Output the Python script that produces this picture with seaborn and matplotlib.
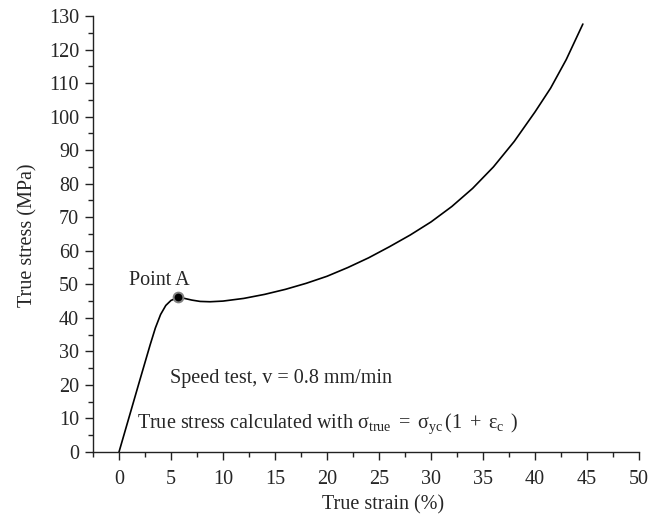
import numpy as np
import pandas as pd
import seaborn as sns
import matplotlib.pyplot as plt
from matplotlib.ticker import MultipleLocator

# values
strain = [0, 1.0, 2.0, 3.0, 3.5, 4.0, 4.5, 5.0, 5.7, 6.3, 7.0, 7.8, 8.75,
          10.0, 12.0, 14.0, 16.0, 18.0, 20.0, 22.0, 24.0, 26.0, 28.0, 30.0,
          32.0, 34.0, 36.0, 38.0, 40.0, 41.5, 43.0, 44.6]
stress = [0, 10.7, 21.4, 32.0, 37.0, 41.0, 43.7, 45.2, 46.1, 45.8, 45.3, 44.9,
          44.8, 45.0, 45.8, 47.0, 48.5, 50.3, 52.4, 55.0, 57.9, 61.2, 64.7,
          68.6, 73.2, 78.6, 85.0, 92.6, 101.4, 108.5, 117.0, 127.6]
point_a = (5.7, 46.1)

df = pd.DataFrame({'strain': strain, 'stress': stress})

sns.set_style('ticks')
plt.rcParams['font.family'] = ['Liberation Serif', 'DejaVu Serif']
plt.rcParams['mathtext.fontset'] = 'custom'
plt.rcParams['mathtext.rm'] = 'Liberation Serif'
plt.rcParams['mathtext.it'] = 'Liberation Serif:italic'
plt.rcParams['mathtext.default'] = 'rm'

fs = 14.5
fig = plt.figure(figsize=(6.59, 5.16), dpi=100)
ax = fig.add_axes([0.1411, 0.124, 0.8286, 0.845])

sns.lineplot(data=df, x='strain', y='stress', sort=False, color='black',
             linewidth=1.2, ax=ax)
ax.plot(point_a[0], point_a[1], 'o', color='black', markersize=7,
        markeredgecolor='#808080', markeredgewidth=1.4, zorder=5)

ax.text(3.9, 51.0, 'Point A', fontsize=fs, ha='center', va='center')
ax.text(4.9, 22.0, 'Speed test, v = 0.8 mm/min', fontsize=fs, ha='left',
        va='center')
ax.text(1.7, 8.3,
        r'True stress calculated with $\sigma_{true}\ =\ \sigma_{yc}\,(1\ +\ \varepsilon_{c}\ \,)$',
        fontsize=fs, ha='left', va='center')

ax.set_xlim(-2.5, 50)
ax.set_ylim(0, 130)
ax.xaxis.set_major_locator(MultipleLocator(5))
ax.xaxis.set_minor_locator(MultipleLocator(2.5))
ax.yaxis.set_major_locator(MultipleLocator(10))
ax.yaxis.set_minor_locator(MultipleLocator(5))
ax.tick_params(which='major', length=6, width=1, color='#222222',
               labelsize=fs)
ax.tick_params(which='minor', length=3.5, width=1, color='#222222')
ax.tick_params(axis='x', which='major', pad=7)
ax.tick_params(axis='y', which='major', pad=4)

for side in ['top', 'right']:
    ax.spines[side].set_visible(False)
for side in ['left', 'bottom']:
    ax.spines[side].set_color('#222222')
    ax.spines[side].set_linewidth(1)

ax.set_xlabel('True strain (%)', fontsize=fs)
ax.set_ylabel('True stress (MPa)', fontsize=fs)
ax.xaxis.set_label_coords(0.5304, -0.098)
ax.yaxis.set_label_coords(-0.102, 0.497)

fig.savefig('out.png', dpi=100)
